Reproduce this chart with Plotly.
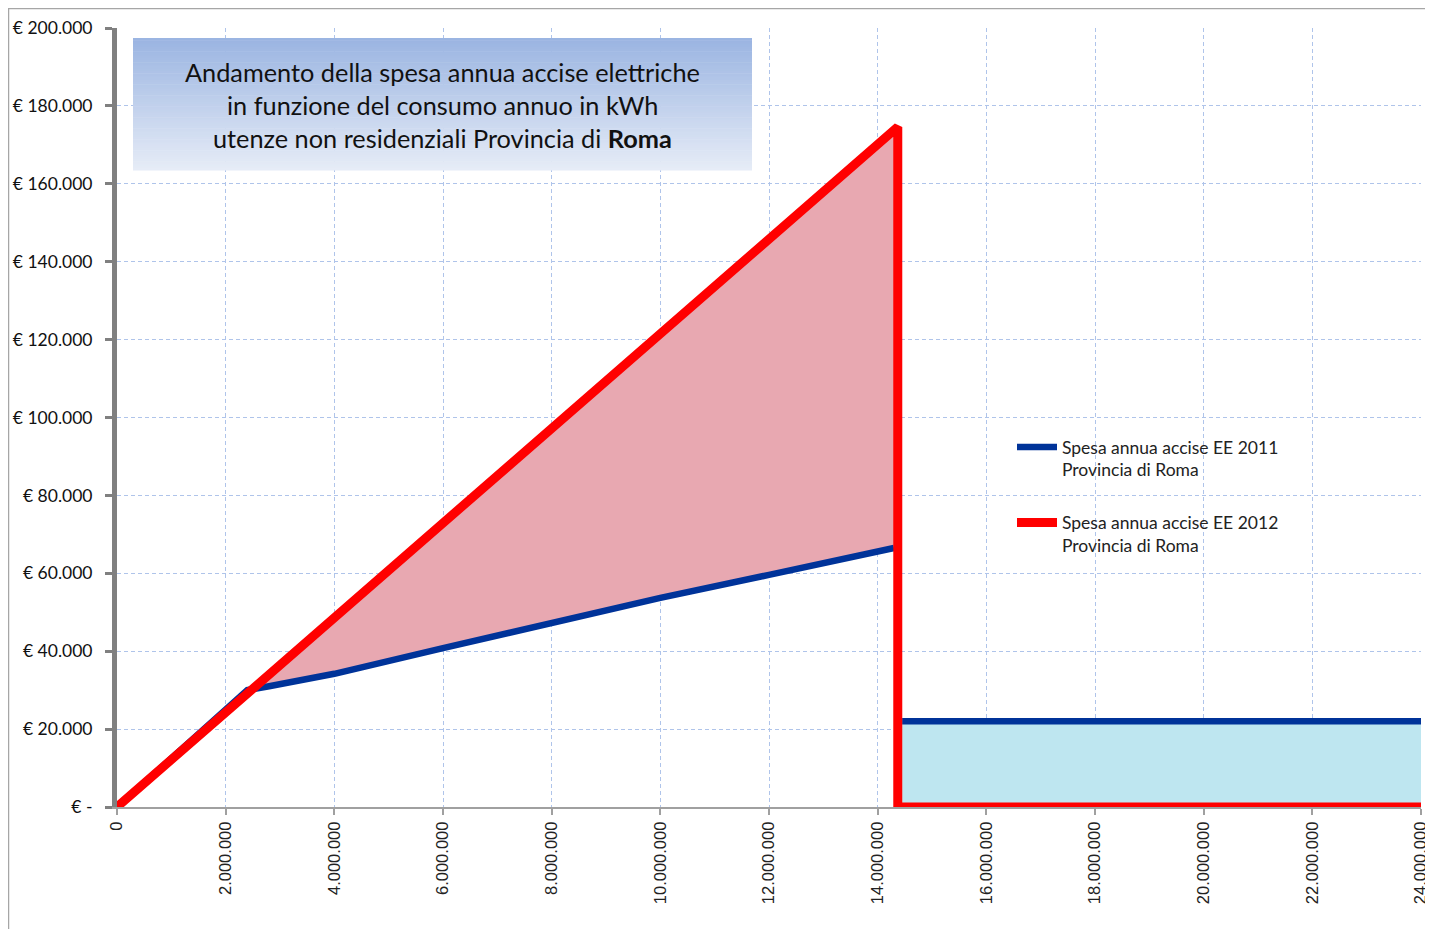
import numpy as np
import plotly.graph_objects as go

# ---------------- data ----------------
consumo_2011_a = [0, 1.2e6, 2.4e6, 2.8e6, 4.0e6, 6.0e6, 8.0e6, 10.0e6, 12.0e6, 14.3e6]
spesa_2011_a = [0, 15000, 30000, 31000, 34200, 40800, 47300, 53700, 59600, 66500]
consumo_2011_b = [14.45e6, 24.0e6]
spesa_2011_b = [22000, 22000]

consumo_2012 = [0, 14.37e6, 14.37e6, 24.0e6]
spesa_2012 = [0, 174600, 0, 0]

x_tick_vals = [0, 2e6, 4e6, 6e6, 8e6, 10e6, 12e6, 14e6, 16e6, 18e6, 20e6, 22e6, 24e6]
x_tick_text = ["0", "2.000.000", "4.000.000", "6.000.000", "8.000.000", "10.000.000",
               "12.000.000", "14.000.000", "16.000.000", "18.000.000", "20.000.000",
               "22.000.000", "24.000.000"]
y_tick_vals = [0, 20000, 40000, 60000, 80000, 100000, 120000, 140000, 160000, 180000, 200000]
y_tick_text = ["€ -", "€ 20.000", "€ 40.000", "€ 60.000", "€ 80.000", "€ 100.000",
               "€ 120.000", "€ 140.000", "€ 160.000", "€ 180.000", "€ 200.000"]

legend_2011 = "Spesa annua accise EE 2011<br>Provincia di Roma"
legend_2012 = "Spesa annua accise EE 2012<br>Provincia di Roma"
title_lines = ["Andamento della spesa annua accise elettriche",
               "in funzione del consumo annuo in kWh",
               "utenze non residenziali Provincia di <b>Roma</b>"]

BLUE = "#003399"
RED = "#FF0000"
PINK = "#E8A8B1"
LIGHTBLUE = "#BEE6F0"
GRID = "#AFC4EA"

# ---------------- derived fill region (red above blue) ----------------
xa = np.array(consumo_2011_a)
ya = np.array(spesa_2011_a)
red_x = np.array(consumo_2012[:2])
red_y = np.array(spesa_2012[:2])
grid = np.linspace(0, red_x[-1], 2000)
diff = np.interp(grid, red_x, red_y) - np.interp(grid, xa, ya)
start = grid[np.argmax((diff > 0) & (grid > 1e6))]
fill_x = np.concatenate([[start], xa[(xa > start)], [red_x[-1]]])
fill_blue = np.interp(fill_x, xa, ya)
fill_red = np.interp(fill_x, red_x, red_y)

fig = go.Figure()

# pink area between blue and red
fig.add_trace(go.Scatter(x=fill_x, y=fill_blue, mode="lines", line=dict(width=0),
                         showlegend=False, hoverinfo="skip"))
fig.add_trace(go.Scatter(x=fill_x, y=fill_red, mode="lines", line=dict(width=0),
                         fill="tonexty", fillcolor=PINK, showlegend=False, hoverinfo="skip"))
# light blue area under flat 2011 line
fig.add_trace(go.Scatter(x=consumo_2011_b, y=spesa_2011_b, mode="lines", line=dict(width=0),
                         fill="tozeroy", fillcolor=LIGHTBLUE, showlegend=False, hoverinfo="skip"))

# lines
fig.add_trace(go.Scatter(x=consumo_2011_a, y=spesa_2011_a, mode="lines", name=legend_2011,
                         line=dict(color=BLUE, width=6.5), cliponaxis=False,
                         legendgroup="g2011", legendrank=1))
fig.add_trace(go.Scatter(x=consumo_2011_b, y=spesa_2011_b, mode="lines", showlegend=False,
                         line=dict(color=BLUE, width=6.5), cliponaxis=False, legendgroup="g2011"))
fig.add_trace(go.Scatter(x=consumo_2012, y=spesa_2012, mode="lines", name=legend_2012,
                         line=dict(color=RED, width=9), cliponaxis=False,
                         legendgroup="g2012", legendrank=2))

# figure placed inside page body margin of 8px
W, H = 1425, 921
L, R, T, B = 109, 12, 20, 122
pw, ph = W - L - R, H - T - B
OFF = 8

def px_x(p):  # screen px -> paper
    return (p - OFF - L) / pw

def px_y(p):
    return (H - B - (p - OFF)) / ph

shapes = []
# outer border
shapes.append(dict(type="rect", xref="paper", yref="paper",
                   x0=px_x(8.5), x1=px_x(1445), y0=px_y(945), y1=px_y(8.5),
                   line=dict(color="#A6A6A6", width=1.5), fillcolor="rgba(0,0,0,0)", layer="below"))
# gradient title box
top_c = np.array([155, 181, 226])
bot_c = np.array([230, 236, 247])
n = 60
bx0, bx1, by0, by1 = 133, 752, 38, 170
for i in range(n):
    t = i / (n - 1)
    c = (top_c * (1 - t) + bot_c * t).astype(int)
    ya0 = by0 + (by1 - by0) * i / n
    ya1 = by0 + (by1 - by0) * (i + 1) / n
    shapes.append(dict(type="rect", xref="paper", yref="paper",
                       x0=px_x(bx0), x1=px_x(bx1), y0=px_y(ya1 + 0.5), y1=px_y(ya0),
                       line=dict(width=0), fillcolor=f"rgb({c[0]},{c[1]},{c[2]})", layer="above"))

annotations = []
for i, line in enumerate(title_lines):
    annotations.append(dict(xref="paper", yref="paper", x=px_x(442), y=px_y(72 + 33 * i),
                            text=line, showarrow=False, xanchor="center", yanchor="middle",
                            font=dict(family="Lato", size=25.3, color="#111111")))

fig.update_layout(
    width=W, height=H,
    margin=dict(l=L, r=R, t=T, b=B, autoexpand=False),
    paper_bgcolor="white", plot_bgcolor="white",
    shapes=shapes, annotations=annotations,
    legend=dict(x=px_x(1012), y=px_y(429), xanchor="left", yanchor="top",
                font=dict(family="Lato", size=17.5, color="#222222"),
                bgcolor="rgba(0,0,0,0)", tracegroupgap=27, valign="top",
                traceorder="grouped", itemwidth=40),
    xaxis=dict(range=[0, 24e6], tickvals=x_tick_vals, ticktext=x_tick_text, tickangle=-90,
               showgrid=True, gridcolor=GRID, griddash="4px,3px", gridwidth=1,
               showline=True, linecolor="#A0A0A0", linewidth=2,
               ticks="outside", ticklen=6, tickcolor="#A0A0A0", tickwidth=1.5,
               ticklabeloverflow="allow", automargin=False,
               tickfont=dict(family="Liberation Sans", size=16.5, color="#222222"),
               zeroline=False, mirror=False),
    yaxis=dict(range=[0, 200000], tickvals=y_tick_vals, ticktext=y_tick_text,
               showgrid=True, gridcolor=GRID, griddash="4px,3px", gridwidth=1,
               showline=True, linecolor="#808080", linewidth=5,
               ticks="outside", ticklen=7, tickcolor="#808080", tickwidth=3,
               ticklabelstandoff=9, automargin=False,
               tickfont=dict(family="Lato", size=17.5, color="#111111"),
               zeroline=False),
)

fig.write_html("out.html")
